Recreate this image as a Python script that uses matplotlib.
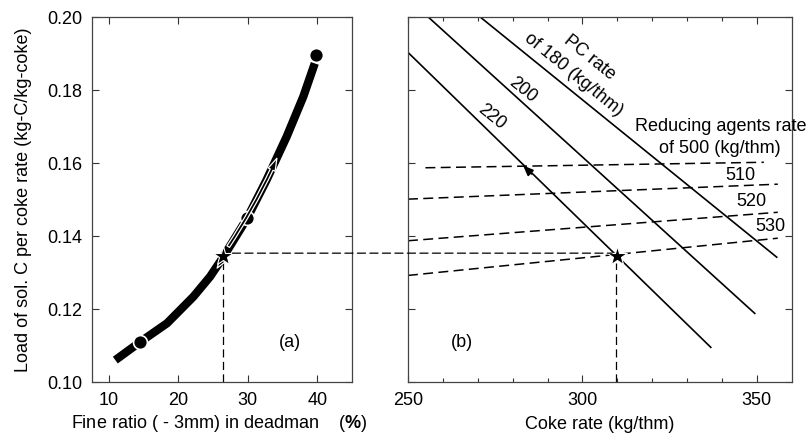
import matplotlib
matplotlib.use("Agg")
import matplotlib.pyplot as plt
from matplotlib.patches import ConnectionPatch
import numpy as np

plt.rcParams['font.family'] = ['Liberation Sans', 'DejaVu Sans']
plt.rcParams['mathtext.fontset'] = 'custom'
plt.rcParams['mathtext.rm'] = 'Liberation Sans'
plt.rcParams['mathtext.bf'] = 'Liberation Sans:bold'

# (a) load of sol. C vs fine ratio
fine_curve = [10.96, 14.55, 18.4, 22.2, 24.6, 26.5, 29.9, 32.7, 35.6, 38.0, 39.65]
load_curve = [0.1060, 0.1110, 0.1161, 0.1234, 0.1289, 0.1343, 0.1448, 0.1553, 0.1672, 0.1782, 0.1873]
fine_pts = [14.5, 29.9, 39.8]
load_pts = [0.111, 0.1450, 0.1896]
star_fine = 26.5
star_load = 0.1346
link_load = 0.1353

# (b) PC rate lines: coke rate ends, load ends
pc_labels = ["180", "200", "220"]
pc_coke = [[270.7, 355.7], [255.8, 349.4], [250.0, 336.8]]
pc_load = [[0.200, 0.1342], [0.200, 0.1188], [0.1903, 0.1095]]

# reducing agents rate lines (dashed)
ra_labels = ["500", "510", "520", "530"]
ra_coke = [[255, 352], [250, 356], [250, 356], [250, 356]]
ra_load = [[0.1587, 0.1602], [0.1501, 0.1542], [0.1387, 0.1465], [0.1292, 0.1394]]
star_coke = 310.0

fig = plt.figure(figsize=(8.06, 4.34), dpi=100)
ax1 = fig.add_axes([0.1141, 0.1198, 0.3226, 0.841])
ax2 = fig.add_axes([0.5062, 0.1198, 0.4761, 0.841])

fs = 13
dash = (6.5, 3.5)

for ax in (ax1, ax2):
    ax.set_ylim(0.10, 0.20)
    ax.tick_params(direction='in', top=True, right=True, length=5, width=0.8,
                   labelsize=fs, color='#333333', pad=7)
    ax.tick_params(which='minor', direction='in', top=True, right=True, length=3,
                   width=0.8, color='#333333')
    for sp in ax.spines.values():
        sp.set_color('#444444')
        sp.set_linewidth(0.9)
    ax.set_yticks(np.arange(0.10, 0.201, 0.02))

# ---- panel (a)
ax1.set_xlim(7.6, 45)
ax1.set_xticks([10, 20, 30, 40])
ax1.set_yticklabels(["%.2f" % v for v in np.arange(0.10, 0.201, 0.02)])
ax1.plot(fine_curve, load_curve, color='black', lw=6, solid_capstyle='butt',
         solid_joinstyle='round', zorder=3)
ax1.plot(fine_pts, load_pts, 'o', color='black', mec='white', mew=1.2, ms=10, zorder=5)
ax1.annotate("", xy=(34.2, 0.1613), xytext=(27.2, 0.1371),
             arrowprops=dict(arrowstyle="simple,head_length=0.9,head_width=0.55,tail_width=0.22",
                             fc='black', ec='white', lw=0.9,
                             connectionstyle="arc3,rad=0.04", shrinkA=0, shrinkB=0),
             zorder=6)
ax1.annotate("", xy=(25.6, 0.1312), xytext=(26.6, 0.1340),
             arrowprops=dict(arrowstyle="simple,head_length=0.7,head_width=0.45,tail_width=0.1",
                             fc='black', ec='white', lw=0.9, shrinkA=0, shrinkB=0),
             zorder=6)
ax1.plot([star_fine], [star_load], '*', color='black', mec='white', mew=0.8, ms=15, zorder=7)
ax1.plot([star_fine, star_fine], [0.10, star_load - 0.002], color='black', lw=0.9,
         dashes=dash)
ax1.text(36.1, 0.1107, "(a)", fontsize=fs, ha='center', va='center')
ax1.set_ylabel("Load of sol. C per coke rate (kg-C/kg-coke)", fontsize=fs, labelpad=11)
ax1.set_xlabel(r"Fine ratio ( - 3mm) in deadman    ($\mathbf{\%}$)", fontsize=fs,
               labelpad=3, x=0.49)

# ---- panel (b)
ax2.set_xlim(250, 360)
ax2.set_xticks([250, 300, 350])
ax2.set_xticks(np.arange(260, 360, 10), minor=True)
ax2.set_yticklabels([])
for xs, ys in zip(pc_coke, pc_load):
    ax2.plot(xs, ys, color='black', lw=1.2)
for xs, ys in zip(ra_coke, ra_load):
    ax2.plot(xs, ys, color='black', lw=1.1, dashes=dash)
ax2.annotate("", xy=(283.0, 0.1593), xytext=(285.5, 0.15697),
             arrowprops=dict(arrowstyle="-|>,head_length=0.6,head_width=0.25",
                             color='black', lw=1.2, shrinkA=0, shrinkB=0))
ax2.plot([star_coke - 0.5, star_coke - 0.5], [0.10, star_load - 0.002], color='black',
         lw=0.9, dashes=dash)
ax2.plot([star_coke], [star_load], '*', color='black', mec='white', mew=0.8, ms=15, zorder=7)

con = ConnectionPatch(xyA=(27.8, link_load), coordsA=ax1.transData,
                      xyB=(star_coke - 1.5, link_load), coordsB=ax2.transData,
                      color='black', lw=0.9, linestyle=(0, dash))
fig.add_artist(con)

ax2.text(302.0, 0.1890, "PC rate", fontsize=fs, rotation=-39, ha='center', va='center',
         rotation_mode='anchor')
ax2.text(297.4, 0.1841, "of 180 (kg/thm)", fontsize=fs, rotation=-39, ha='center',
         va='center', rotation_mode='anchor')
ax2.text(283.0, 0.1800, pc_labels[1], fontsize=fs, rotation=-39, ha='center', va='center',
         rotation_mode='anchor')
ax2.text(274.1, 0.1726, pc_labels[2], fontsize=fs, rotation=-39, ha='center', va='center',
         rotation_mode='anchor')
ax2.text(339.7, 0.1701, "Reducing agents rate", fontsize=fs, ha='center', va='center',
         clip_on=False)
ax2.text(339.5, 0.1641, "of %s (kg/thm)" % ra_labels[0], fontsize=fs, ha='center',
         va='center')
ax2.text(345.4, 0.1567, ra_labels[1], fontsize=fs, ha='center', va='center')
ax2.text(348.3, 0.1495, ra_labels[2], fontsize=fs, ha='center', va='center')
ax2.text(354.0, 0.1426, ra_labels[3], fontsize=fs, ha='center', va='center')
ax2.text(265.5, 0.1107, "(b)", fontsize=fs, ha='center', va='center')
ax2.set_xlabel("Coke rate (kg/thm)", fontsize=fs, labelpad=5)

fig.savefig("out.png", dpi=100)
